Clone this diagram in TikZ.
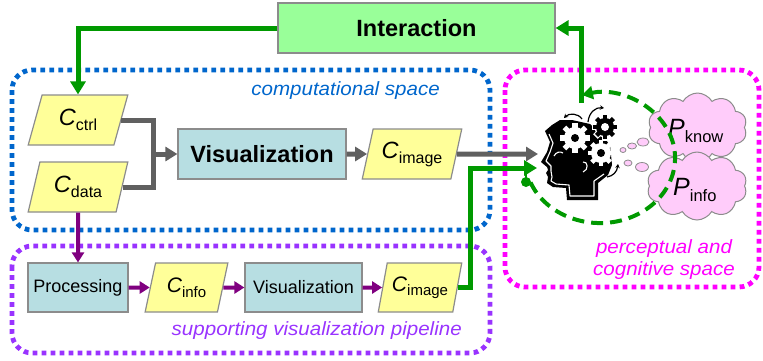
\documentclass[tikz,border=0pt]{standalone}
\usepackage{fontspec}
\usepackage{graphicx}
\setmainfont{Liberation Sans}
\usetikzlibrary{shapes.geometric,shapes.symbols,arrows.meta,calc}
\definecolor{ggreen}{RGB}{0,153,0}
\definecolor{gline}{RGB}{96,96,96}
\definecolor{pline}{RGB}{128,0,128}
\definecolor{bframe}{RGB}{0,102,204}
\definecolor{pframe}{RGB}{153,51,255}
\definecolor{mframe}{RGB}{255,0,255}
\definecolor{intfill}{RGB}{153,255,153}
\definecolor{visfill}{RGB}{183,222,226}
\definecolor{datfill}{RGB}{255,255,153}
\definecolor{cloudfill}{RGB}{255,204,250}
\definecolor{boxline}{RGB}{140,140,140}
\newcommand{\fs}[1]{\fontsize{#1}{#1}\selectfont}
\newcommand{\csub}[5]{{\fs{#1}\itshape #2\/}\raisebox{-#5pt}{\fs{#3}#4}}
\newcommand{\wide}[1]{\scalebox{1.07}[1]{#1}}
\newcommand{\mygear}[7]{%
  \begin{scope}[shift={(#1,#2)}]
    \fill[#6] (0,0) circle[radius=#3];
    \foreach \a in {0,45,...,315}{\fill[#6, rotate=\a] (-#5,0) rectangle (#5,#4);}
    \fill[#7] (0,0) circle[radius=4];
  \end{scope}}
\tikzset{
  procbox/.style={draw=boxline, line width=1.2pt, fill=visfill, inner sep=0pt, minimum height=50pt},
  databox/.style={trapezium, trapezium left angle=71, trapezium right angle=109, trapezium stretches=true,
    draw=boxline, line width=1.2pt, fill=datfill, inner sep=0pt, minimum height=50pt, minimum width=100pt},
  frame/.style={line width=4.8pt, dash pattern=on 4.8pt off 4.2pt, rounded corners=20pt},
  garrow/.style={draw=gline, line width=5pt, -{Triangle[length=12pt,width=14pt]}},
  parrow/.style={draw=pline, line width=4pt, -{Triangle[length=10pt,width=12pt]}},
  grarrow/.style={draw=ggreen, line width=5pt, -{Triangle[length=13pt,width=15pt]}},
  cloudnode/.style={cloud, cloud puffs=10, cloud puff arc=120, cloud ignores aspect, draw=boxline,
    fill=cloudfill, line width=1pt, inner sep=0pt},
  bubble/.style={draw=boxline, fill=cloudfill, line width=0.8pt},
  spacelbl/.style={font=\itshape\fs{19.2}, inner sep=0pt},
  smallarr/.style={black, line width=1.2pt, -{Stealth[length=4pt,width=4.5pt]}}
}
\begin{document}
\begin{tikzpicture}[x=1pt,y=-1pt]
\useasboundingbox (0,0) rectangle (763,360);

% frames
\draw[frame, draw=bframe] (12,70) rectangle (490,230);
\draw[frame, draw=pframe] (12,246) rectangle (490,353);
\draw[frame, draw=mframe] (505,70) rectangle (759,287);

\node[spacelbl, text=bframe, anchor=base east] (lblc) at (440,95) {\wide{computational space}};
\node[spacelbl, text=pframe, anchor=base east] (lbls) at (462,335) {\wide{supporting visualization pipeline}};
\node[spacelbl, text=mframe, anchor=base] (lblp1) at (664,253) {\wide{perceptual and}};
\node[spacelbl, text=mframe, anchor=base] (lblp2) at (664,275) {\wide{cognitive space}};

% top nodes
\node[procbox, fill=intfill, minimum width=277pt, font=\bfseries\fs{23.5}] (inter) at (416.5,28) {Interaction};
\node[databox] (ctrl) at (78,120) {\csub{23.5}{C}{16}{ctrl}{5}};
\node[databox] (data) at (78,187) {\csub{23.5}{C}{16}{data}{5}};
\node[procbox, minimum width=168pt, font=\bfseries\fs{23.5}] (vis1) at (262,154) {Visualization};
\node[databox] (img1) at (412,154) {\csub{23.5}{C}{16}{image}{5}};

% bottom nodes
\node[procbox, minimum width=100pt, minimum height=49pt, font=\fs{18}] (proc) at (78,287.5) {Processing};
\node[databox, minimum width=83pt, minimum height=49pt] (info) at (186.5,287.5) {\csub{21}{C}{15}{info}{4.5}};
\node[procbox, minimum width=117pt, minimum height=49pt, font=\fs{18}] (vis2) at (303.5,287.5) {Visualization};
\node[databox, minimum width=84pt, minimum height=49pt] (img2) at (420,287.5) {\csub{21}{C}{15}{image}{4.5}};

% thought bubbles and clouds
\draw[bubble] (623,150) ellipse [x radius=3, y radius=2.5];
\draw[bubble] (632,146) ellipse [x radius=4.5, y radius=3];
\draw[bubble] (643,142) ellipse [x radius=6, y radius=4];
\draw[bubble] (628,163) ellipse [x radius=4, y radius=3];
\draw[bubble] (642,167) ellipse [x radius=6.5, y radius=4.5];
\node[cloudnode, minimum width=99pt, minimum height=69pt] (ck) at (697.5,127.5) {};
\node[cloudnode, minimum width=100pt, minimum height=68pt] (ci) at (697,186) {};
\node[anchor=base west, inner sep=0pt] (pk) at (668,136) {\csub{25}{P}{16.5}{know}{6}};
\node[anchor=base west, inner sep=0pt] (pi) at (673,195) {\csub{25}{P}{16.5}{info}{6}};

% head
\fill[black] (545,131) -- (552,125) -- (560,120) -- (572,120) -- (590,124) -- (600,133) -- (610,145)
  -- (612,165) -- (608,175) -- (598,183) -- (598,200) -- (567,200) -- (566,188) -- (553,187)
  -- (547,183) -- (548,177) -- (546,173) -- (548,170) -- (547,167) -- (541,162) -- (547,152)
  -- (550,142) -- cycle;
\draw[white, line width=1.1pt, line join=round] (549,134) -- (553,143) -- (550,152) -- (546,161)
  -- (551,166) -- (551,171) -- (552,177) -- (551,181) -- (556,184) -- (569,185) -- (570,196) -- (594,196)
  -- (594,181) -- (604,174);
\draw[white, line width=1.1pt] (554,156) .. controls (556,152) and (560,151) .. (563,153);
\draw[white, line width=1.1pt] (583,162) .. controls (588,161) and (589,170) .. (583,172);
\mygear{575}{138}{11}{15}{2.6}{white}{black}
\mygear{605}{127}{10.5}{13.5}{3.2}{white}{white}
\mygear{605}{127}{9}{12}{2.2}{black}{white}
\mygear{601}{153}{10}{13}{2.3}{white}{black}
\draw[smallarr] (582,119) .. controls (578,113) and (569,113) .. (564,118);
\draw[smallarr] (588,122) .. controls (589,112) and (596,107) .. (604,108);
\draw[smallarr] (607,177) .. controls (613,176) and (617,172) .. (618,164);
\coordinate (headL) at (538,154);
\coordinate (headL2) at (537,168);
\coordinate (headT) at (581,103);

% connectors
\coordinate (j) at (153,154);
\draw[gline, line width=5pt] (ctrl.east) -| (j) |- (data.east);
\draw[garrow] (j) -- (vis1.west);
\draw[garrow] (vis1.east) -- (img1.west);
\draw[garrow] (img1.east) -- (headL);
\draw[grarrow] (inter.west) -| (ctrl.north);
\draw[parrow] (data.south) -- (proc.north);
\draw[parrow] (proc.east) -- (info.west);
\draw[parrow] (info.east) -- (vis2.west);
\draw[parrow] (vis2.east) -- (img2.west);
\coordinate (g1) at (470,228);
\draw[grarrow] (img2.east) -| (g1) |- (headL2);
\draw[grarrow] (headT) |- (inter.east);

% dashed loop
\coordinate (arcS) at (530.5,182.4);
\coordinate (dot) at (526,182);
\coordinate (dotup) at (526,168);
\draw[ggreen, line width=2.5pt] (dot) -- (dotup);
\fill[ggreen] (dot) circle[radius=5];
\draw[ggreen, line width=4pt, dash pattern=on 12pt off 7pt, -{Triangle[length=11pt,width=13pt]}]
  (arcS) arc[start angle=158, end angle=-104, x radius=75, y radius=65];
\end{tikzpicture}
\end{document}
